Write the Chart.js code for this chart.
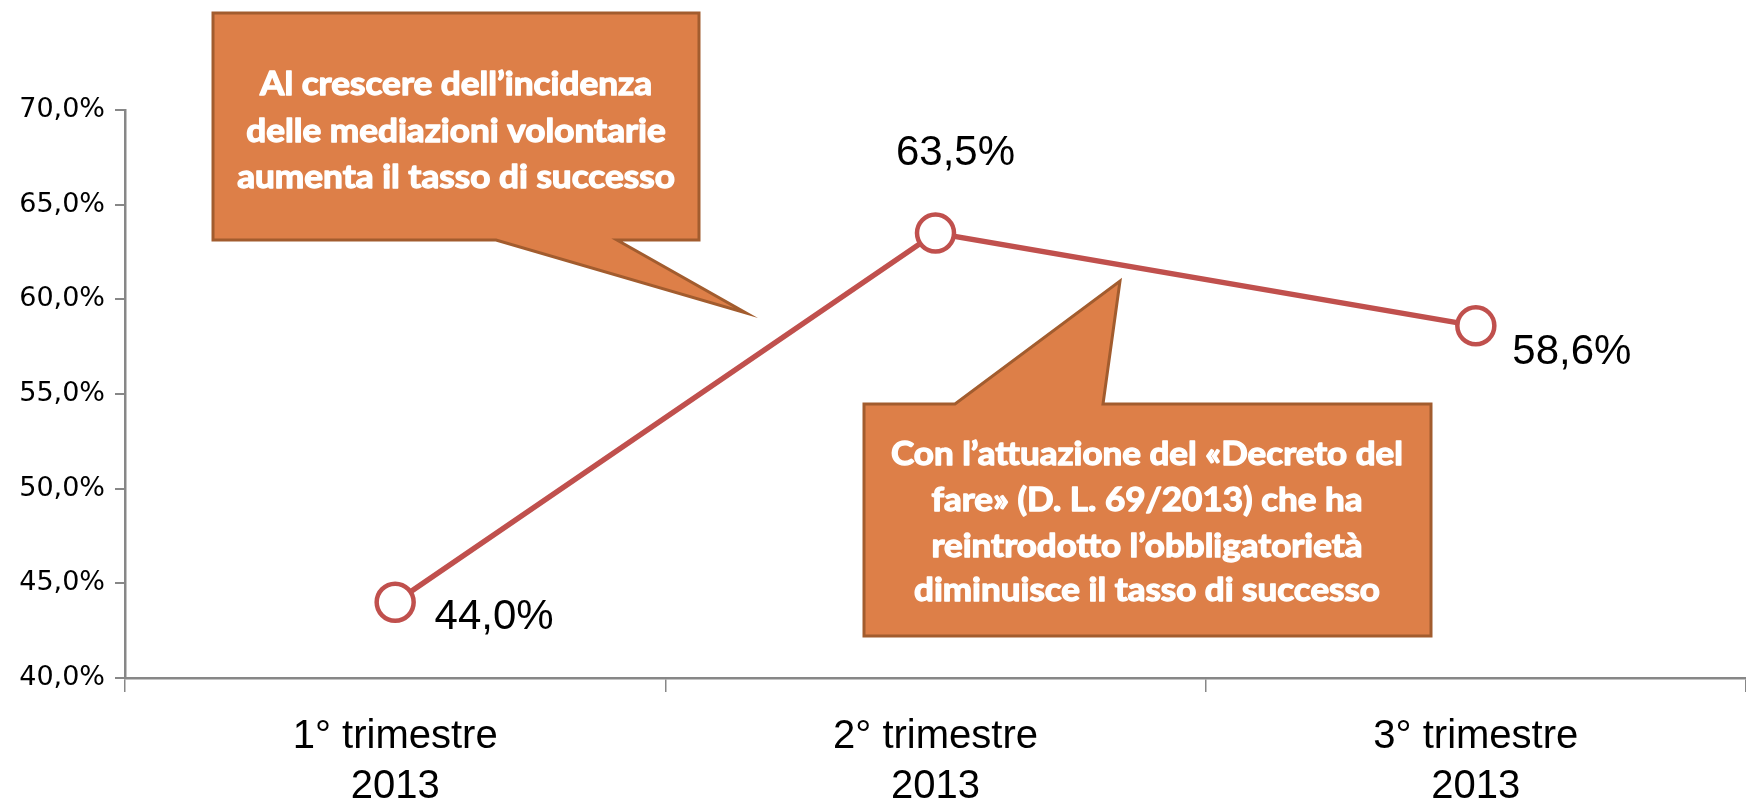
<!DOCTYPE html>
<html>
<head>
<meta charset="utf-8">
<script src="https://cdn.jsdelivr.net/npm/chart.js@4/dist/chart.umd.min.js"></script>
<style>
  body { margin: 0; background: #fff; }
  canvas { display: block; }
</style>
</head>
<body>
<canvas id="chart" width="1746" height="802"></canvas>
<script>
// dati
const categories = [['1° trimestre', '2013'], ['2° trimestre', '2013'], ['3° trimestre', '2013']];
const tassoSuccesso = [44.0, 63.5, 58.6];
const yTicks = [40, 45, 50, 55, 60, 65, 70];
const nota1 = ['Al crescere dell’incidenza', 'delle mediazioni volontarie', 'aumenta il tasso di successo'];
const nota2 = ['Con l’attuazione del «Decreto del', 'fare» (D. L. 69/2013) che ha', 'reintrodotto l’obbligatorietà', 'diminuisce il tasso di successo'];

const fmt = v => v.toFixed(1).replace('.', ',') + '%';
const axisColor = '#878787';

// etichette dei valori accanto ai punti
const labelOffsets = [[99, 15], [20, -80], [96, 27]];
const valueLabels = {
  id: 'valueLabels',
  afterDatasetsDraw(chart) {
    const ctx = chart.ctx;
    const meta = chart.getDatasetMeta(0);
    ctx.save();
    ctx.font = '42px "Liberation Sans", Arial, sans-serif';
    ctx.fillStyle = '#000';
    ctx.textAlign = 'center';
    ctx.textBaseline = 'middle';
    meta.data.forEach((pt, i) => {
      ctx.fillText(fmt(tassoSuccesso[i]), pt.x + labelOffsets[i][0], pt.y + labelOffsets[i][1]);
    });
    ctx.restore();
  }
};

// fumetti arancioni
const callouts = [
  { shape: [[213,13],[699,13],[699,240],[617,240],[746,313],[496,240],[213,240]],
    lines: nota1, cx: 456, baselines: [95, 141.5, 188], width: 392 },
  { shape: [[864,404],[955,404],[1120,281],[1103,404],[1431,404],[1431,636],[864,636]],
    lines: nota2, cx: 1147, baselines: [465, 511, 556.5, 601], width: 512 }
];
const calloutPlugin = {
  id: 'callouts',
  afterDraw(chart) {
    const ctx = chart.ctx;
    callouts.forEach(c => {
      ctx.save();
      ctx.beginPath();
      c.shape.forEach((p, i) => i ? ctx.lineTo(p[0], p[1]) : ctx.moveTo(p[0], p[1]));
      ctx.closePath();
      ctx.fillStyle = '#DD7F48';
      ctx.fill();
      ctx.lineWidth = 3;
      ctx.lineJoin = 'miter';
      ctx.strokeStyle = '#A25C2E';
      ctx.stroke();

      ctx.font = 'bold 32px Lato, "Open Sans", sans-serif';
      ctx.fillStyle = '#fff';
      ctx.strokeStyle = '#fff';
      ctx.lineWidth = 1.3;
      ctx.lineJoin = 'round';
      ctx.textAlign = 'center';
      ctx.textBaseline = 'alphabetic';
      const sx = c.width / ctx.measureText(c.lines[0]).width;
      c.lines.forEach((t, i) => {
        ctx.save();
        ctx.translate(c.cx, c.baselines[i]);
        ctx.scale(sx, 1);
        ctx.fillText(t, 0, 0);
        ctx.strokeText(t, 0, 0);
        ctx.restore();
      });
      ctx.restore();
    });
  }
};

new Chart(document.getElementById('chart'), {
  type: 'line',
  data: {
    labels: categories,
    datasets: [{
      data: tassoSuccesso,
      borderColor: '#C0504D',
      borderWidth: 5.5,
      pointRadius: 18.5,
      pointBorderWidth: 4.5,
      pointBackgroundColor: '#fff',
      pointBorderColor: '#C0504D',
      tension: 0
    }]
  },
  options: {
    responsive: false,
    animation: false,
    layout: { autoPadding: false, padding: { top: 110, right: -8, bottom: 0, left: 0 } },
    plugins: { legend: { display: false }, tooltip: { enabled: false } },
    scales: {
      x: {
        offset: true,
        grid: { offset: true, drawOnChartArea: false, tickLength: 14, color: axisColor, lineWidth: 1.5 },
        border: { color: axisColor, width: 2.5 },
        ticks: {
          color: '#000', padding: 20, maxRotation: 0, autoSkip: false,
          font: { family: '"Liberation Sans", Arial, sans-serif', size: 40, lineHeight: 1.25 }
        },
        afterFit(s) { s.height = 124; s.paddingLeft = 0; s.paddingRight = 0; }
      },
      y: {
        min: 40, max: 70,
        afterBuildTicks(s) { s.ticks = yTicks.map(v => ({ value: v })); },
        grid: { drawOnChartArea: false, tickLength: 10, color: axisColor, lineWidth: 2 },
        border: { color: axisColor, width: 2.5 },
        ticks: {
          color: '#000', padding: 10,
          font: { family: '"DejaVu Sans", Verdana, sans-serif', size: 27 },
          callback: v => fmt(v)
        },
        afterFit(s) { s.width = 125; s.paddingTop = 0; s.paddingBottom = 0; }
      }
    }
  },
  plugins: [valueLabels, calloutPlugin]
});
</script>
</body>
</html>
